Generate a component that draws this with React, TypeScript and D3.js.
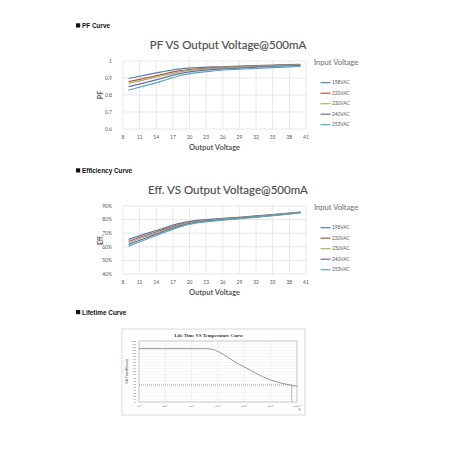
import * as d3 from "d3";

// output voltage sample points shared by both curves
const outVolts = [9, 12, 15, 18, 21, 24, 28, 32, 36, 40];
const inputLabels = ["198VAC", "220VAC", "230VAC", "240VAC", "253VAC"];
const seriesColors = ["#4f81bd", "#c0504d", "#9bbb59", "#8064a2", "#4bacc6"];
const xTicks = [8, 11, 14, 17, 20, 23, 26, 29, 32, 35, 38, 41];

const pf198 = [0.897, 0.917, 0.936, 0.952, 0.960, 0.965, 0.969, 0.973, 0.977, 0.981];
const pf220 = [0.878, 0.899, 0.921, 0.942, 0.953, 0.959, 0.965, 0.970, 0.975, 0.978];
const pf230 = [0.868, 0.890, 0.913, 0.935, 0.948, 0.955, 0.962, 0.968, 0.973, 0.976];
const pf240 = [0.849, 0.873, 0.898, 0.924, 0.940, 0.949, 0.957, 0.964, 0.969, 0.973];
const pf253 = [0.829, 0.855, 0.882, 0.912, 0.930, 0.941, 0.950, 0.957, 0.963, 0.968];
const pfTicks = [0.6, 0.7, 0.8, 0.9, 1];

const eff198 = [65.5, 69.5, 73.3, 77.0, 79.3, 80.3, 81.5, 82.7, 84.0, 85.6];
const eff220 = [64.0, 68.3, 72.3, 76.2, 78.8, 79.9, 81.2, 82.4, 83.8, 85.4];
const eff230 = [63.0, 67.4, 71.6, 75.6, 78.4, 79.6, 80.9, 82.2, 83.6, 85.3];
const eff240 = [61.8, 66.3, 70.8, 75.0, 77.9, 79.2, 80.6, 81.9, 83.4, 85.1];
const eff253 = [60.5, 65.2, 69.8, 74.3, 77.3, 78.8, 80.3, 81.7, 83.2, 85.0];
const effTicks = [40, 50, 60, 70, 80, 90];

// lifetime curve
const tempTicks = [40, 50, 60, 70, 80, 90, 100];
const lifeTicks = d3.range(0, 201, 10);
const lifeTemps = [40, 66, 78, 90, 95, 100];
const lifeHours = [175, 175, 124, 72, 60, 52];
const lifeRef = 56;
const lifeRefTemp = 98;

const font = "Lato, 'Open Sans', sans-serif";
const txt = "#595959";
const grid = "#d9d9d9";

type CurveProps = {
  top: number;
  header: string;
  title: string;
  yTitle: string;
  yTicks: number[];
  yFmt: (v: number) => string;
  series: number[][];
};

function VoltCurve({ top, header, title, yTitle, yTicks, yFmt, series }: CurveProps) {
  const x = d3.scaleLinear().domain([8, 41]).range([123, 306]);
  const y = d3
    .scaleLinear()
    .domain([yTicks[0], yTicks[yTicks.length - 1]])
    .range([top + 109, top + 41]);
  const line = d3
    .line<number>()
    .x((_, i) => x(outVolts[i]))
    .y((d) => y(d))
    .curve(d3.curveMonotoneX);

  return (
    <g>
      <rect x={76} y={top + 3.3} width={4.2} height={4.2} fill="#111" />
      <text x={82} y={top + 8} fontFamily="'Liberation Sans', Arial" fontWeight="bold" fontSize={6.4} fill="#111">
        {header}
      </text>
      <text x={228} y={top + 28.5} textAnchor="middle" fontFamily={font} fontSize={11.5} fill="#4d4d4d" stroke="#4d4d4d" strokeWidth={0.15}>
        {title}
      </text>
      {xTicks.map((t) => (
        <line key={"v" + t} x1={x(t)} x2={x(t)} y1={y.range()[0]} y2={y.range()[1]} stroke={grid} strokeWidth={0.6} />
      ))}
      {yTicks.map((t) => (
        <line key={"h" + t} x1={x(8)} x2={x(41)} y1={y(t)} y2={y(t)} stroke={grid} strokeWidth={0.6} />
      ))}
      {yTicks.map((t) => (
        <text key={"yl" + t} x={112} y={y(t) + 1.8} textAnchor="end" fontFamily={font} fontSize={5} fill={txt}>
          {yFmt(t)}
        </text>
      ))}
      {xTicks.map((t) => (
        <text key={"xl" + t} x={x(t)} y={y.range()[0] + 9.5} textAnchor="middle" fontFamily={font} fontSize={5} fill={txt}>
          {t}
        </text>
      ))}
      <text
        transform={`translate(${103},${(y.range()[0] + y.range()[1]) / 2}) rotate(-90)`}
        textAnchor="middle"
        fontFamily={font}
        fontWeight="bold"
        fontSize={7}
        fill={txt}
      >
        {yTitle}
      </text>
      <text x={214.5} y={y.range()[0] + 21} textAnchor="middle" fontFamily={font} fontWeight="bold" fontSize={7.5} fill={txt}>
        Output Voltage
      </text>
      {series.map((s, i) => (
        <path key={"s" + i} d={line(s) || ""} fill="none" stroke={seriesColors[i]} strokeWidth={1.2} />
      ))}
      <text x={314} y={top + 45} fontFamily={font} fontSize={7.6} fill="#7f7f7f" stroke="#7f7f7f" strokeWidth={0.12}>
        Input Voltage
      </text>
      {inputLabels.map((lab, i) => (
        <g key={lab} transform={`translate(0,${top + 62.7 + i * 10.5})`}>
          <line x1={320.5} x2={330.5} y1={0} y2={0} stroke={seriesColors[i]} strokeWidth={1.2} />
          <text x={332} y={1.7} fontFamily={font} fontSize={4.8} fill={txt}>
            {lab}
          </text>
        </g>
      ))}
    </g>
  );
}

function LifeCurve() {
  const top = 300;
  const x = d3.scaleLinear().domain([40, 100]).range([139, 297]);
  const y = d3.scaleLinear().domain([0, 200]).range([402, 341]);
  const line = d3
    .line<number>()
    .x((_, i) => x(lifeTemps[i]))
    .y((d) => y(d))
    .curve(d3.curveMonotoneX);

  return (
    <g>
      <rect x={76} y={top + 10} width={4.2} height={4.2} fill="#111" />
      <text x={82} y={top + 14.7} fontFamily="'Liberation Sans', Arial" fontWeight="bold" fontSize={6.4} fill="#111">
        Lifetime Curve
      </text>
      <rect x={122} y={329} width={183} height={86} fill="#fff" stroke="#c8c8c8" strokeWidth={0.7} />
      <text x={209} y={337.3} textAnchor="middle" fontFamily="'Liberation Serif', 'DejaVu Serif', serif" fontWeight="bold" fontSize={4.8} fill="#333">
        Life Time VS  Temperature Curve
      </text>
      {lifeTicks.map((t) => (
        <line key={"h" + t} x1={x(40)} x2={x(100)} y1={y(t)} y2={y(t)} stroke="#e3e3e3" strokeWidth={0.4} />
      ))}
      {tempTicks.map((t) => (
        <line key={"v" + t} x1={x(t)} x2={x(t)} y1={y(0)} y2={y(200)} stroke="#e3e3e3" strokeWidth={0.4} />
      ))}
      <rect x={x(40)} y={y(200)} width={x(100) - x(40)} height={y(0) - y(200)} fill="none" stroke="#9a9a9a" strokeWidth={0.5} />
      {lifeTicks.map((t) => (
        <text key={"yl" + t} x={136} y={y(t) + 0.9} textAnchor="end" fontFamily={font} fontSize={2.4} fill="#666">
          {t}
        </text>
      ))}
      {tempTicks.map((t) => (
        <text key={"xl" + t} x={x(t)} y={406.5} textAnchor="middle" fontFamily={font} fontSize={2.6} fill="#666">
          {t}℃
        </text>
      ))}
      <text x={299.5} y={411} textAnchor="middle" fontFamily={font} fontSize={3} fill="#666">
        Tc
      </text>
      <text
        transform={`translate(${127.5},${(y(0) + y(200)) / 2}) rotate(-90)`}
        textAnchor="middle"
        fontFamily={font}
        fontWeight="bold"
        fontSize={3}
        fill="#555"
      >
        Life Time (Khours)
      </text>
      <line x1={x(40)} x2={x(lifeRefTemp)} y1={y(lifeRef)} y2={y(lifeRef)} stroke="#555" strokeWidth={0.6} strokeDasharray="1 1" />
      <line x1={x(lifeRefTemp)} x2={x(lifeRefTemp)} y1={y(lifeRef)} y2={y(0)} stroke="#777" strokeWidth={0.5} />
      <path d={line(lifeHours) || ""} fill="none" stroke="#8a8a8a" strokeWidth={0.9} />
    </g>
  );
}

export default function App() {
  return (
    <svg width={458} height={458} style={{ position: "absolute", left: 0, top: 0, background: "#fff" }}>
      <VoltCurve
        top={20}
        header="PF Curve"
        title="PF VS Output Voltage@500mA"
        yTitle="PF"
        yTicks={pfTicks}
        yFmt={(v) => String(v)}
        series={[pf198, pf220, pf230, pf240, pf253]}
      />
      <VoltCurve
        top={165}
        header="Efficiency Curve"
        title="Eff. VS Output Voltage@500mA"
        yTitle="Eff."
        yTicks={effTicks}
        yFmt={(v) => v + "%"}
        series={[eff198, eff220, eff230, eff240, eff253]}
      />
      <LifeCurve />
    </svg>
  );
}
